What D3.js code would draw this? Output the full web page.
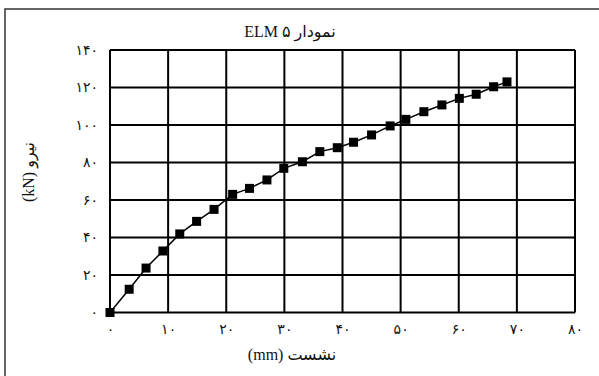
<!DOCTYPE html>
<html><head><meta charset="utf-8">
<script src="https://cdn.jsdelivr.net/npm/d3@7"></script>
<style>body{margin:0;background:#fff}svg{display:block}</style>
</head><body>
<svg id="c" width="599" height="376"></svg>
<script>
const settlement = [0,3.3,6.2,9.1,12,14.9,17.9,21.1,24,27,29.9,33.1,36.1,39.1,41.9,45,48.2,50.9,54,57.1,60.1,63,66,68.3];
const force = [0,12.4,23.7,32.8,41.9,48.6,55,63,66.2,70.7,76.9,80.4,85.8,87.9,90.8,94.7,99.5,103,107.1,110.7,114.2,116.4,120.4,123];
const xTicks = [0,10,20,30,40,50,60,70,80];
const yTicks = [0,20,40,60,80,100,120,140];
const title = "نمودار ۵ ELM";
const xTitle = "نشست (mm)";
const yTitle = "نیرو (kN)";

const fa = d => String(d).replace(/\d/g, c => "۰۱۲۳۴۵۶۷۸۹"[+c]);
const font = "'Liberation Serif','DejaVu Serif','DejaVu Sans',serif";
const svg = d3.select("#c");
const L=110,R=575,T=50,B=312.5;
const x = d3.scaleLinear().domain([0,80]).range([L,R]);
const y = d3.scaleLinear().domain([0,140]).range([B,T]);

// outer frame
svg.append("path").attr("d","M5,380V9H605").attr("fill","none").attr("stroke","#333").attr("stroke-width",1.5);

// grid
const g = svg.append("g");
g.selectAll(".vx").data(xTicks).join("line").attr("x1",d=>x(d)).attr("x2",d=>x(d)).attr("y1",T).attr("y2",B).attr("stroke","#000").attr("stroke-width",2);
g.selectAll(".hy").data(yTicks).join("line").attr("x1",L).attr("x2",R).attr("y1",d=>y(d)).attr("y2",d=>y(d)).attr("stroke","#000").attr("stroke-width",2);

// axes labels
const xa = d3.axisBottom(x).tickValues(xTicks).tickFormat(fa).tickSize(0).tickPadding(12);
svg.append("g").attr("transform",`translate(0,${B})`).call(xa).call(s=>{s.select(".domain").remove();s.selectAll("text").attr("font-family",font).attr("font-size",14).attr("fill","#111");});
const ya = d3.axisLeft(y).tickValues(yTicks).tickFormat(fa).tickSize(0).tickPadding(12);
svg.append("g").attr("transform",`translate(${L},0)`).call(ya).call(s=>{s.select(".domain").remove();s.selectAll("text").attr("font-family",font).attr("font-size",14).attr("fill","#111");});

// line + markers
const pts = settlement.map((s,i)=>[s,force[i]]);
svg.append("path").datum(pts).attr("d",d3.line().x(d=>x(d[0])).y(d=>y(d[1]))).attr("fill","none").attr("stroke","#000").attr("stroke-width",1.5);
svg.selectAll(".m").data(pts).join("rect").attr("x",d=>x(d[0])-4.5).attr("y",d=>y(d[1])-4.5).attr("width",9).attr("height",9).attr("fill","#000");

// titles
svg.append("text").attr("x",290).attr("y",37).attr("text-anchor","middle").attr("direction","rtl").attr("font-family",font).attr("font-size",16).attr("fill","#111").text(title);
svg.append("text").attr("x",292).attr("y",360).attr("text-anchor","middle").attr("direction","rtl").attr("font-family",font).attr("font-size",16).attr("fill","#111").text(xTitle);
svg.append("text").attr("transform","translate(34,172) rotate(-90)").attr("text-anchor","middle").attr("direction","rtl").attr("font-family",font).attr("font-size",16).attr("fill","#111").text(yTitle);
</script>
</body></html>
